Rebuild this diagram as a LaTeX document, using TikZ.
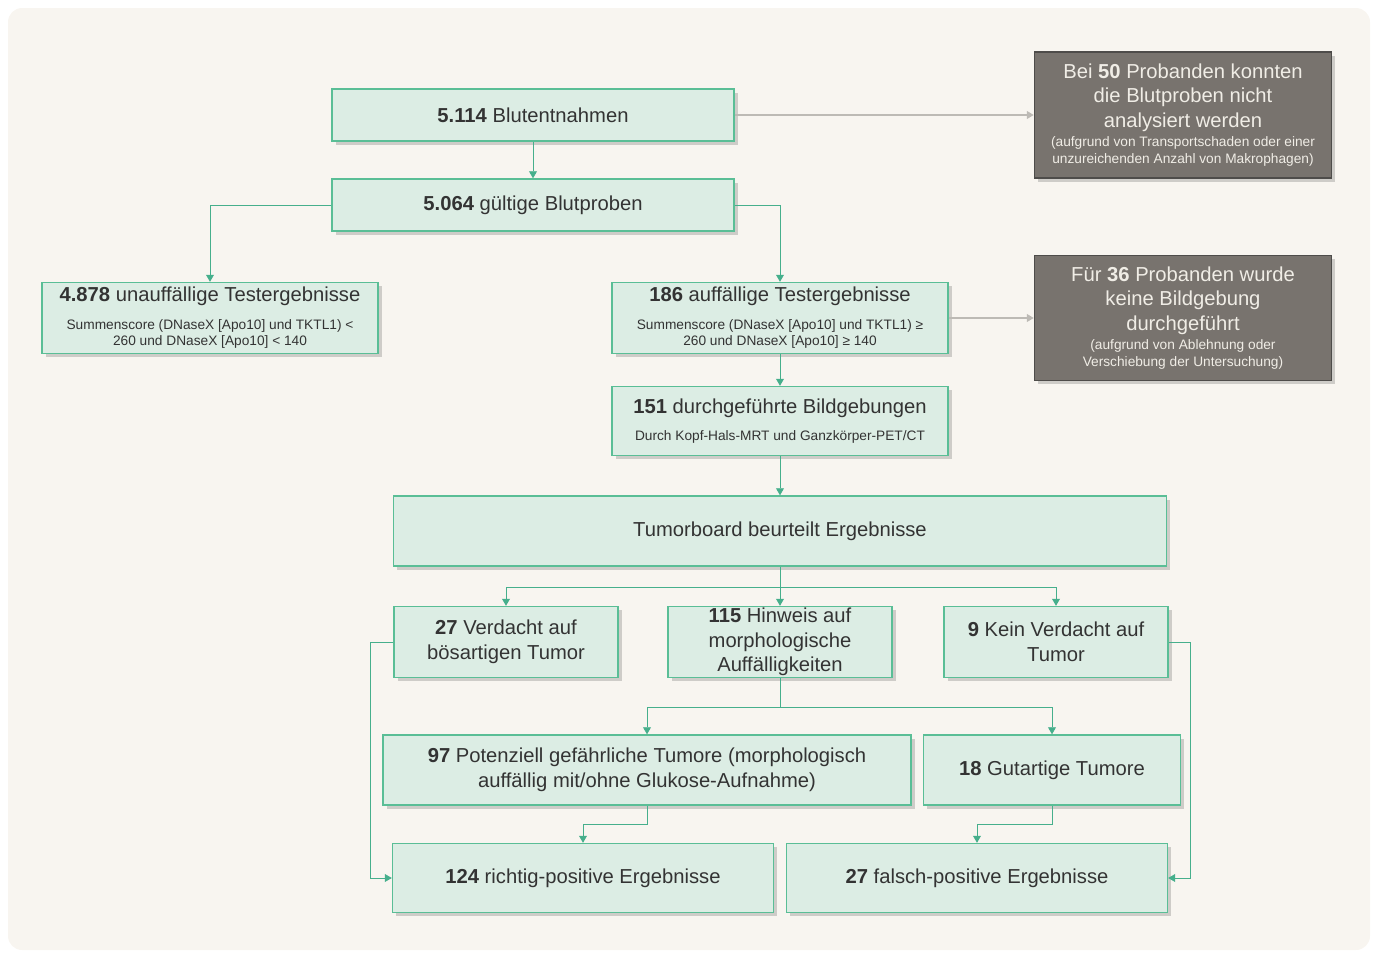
\documentclass[tikz,border=0pt]{standalone}
\usepackage{fontspec}
\setmainfont{Liberation Sans}
\usepackage{tikz}
\usetikzlibrary{arrows.meta, positioning, shadows}

\definecolor{paper}{HTML}{F8F5F0}
\definecolor{mintfill}{HTML}{DCEDE4}
\definecolor{mintdraw}{HTML}{5ABE96}
\definecolor{flowline}{HTML}{46AF8C}
\definecolor{stonefill}{HTML}{78736E}
\definecolor{stonedraw}{HTML}{4E4C4A}
\definecolor{stonetext}{HTML}{F0EDE6}
\definecolor{sideline}{HTML}{BDBAB5}

\newcommand{\mainsize}{\fontsize{11.5}{14}\selectfont}
\newcommand{\smallsize}{\fontsize{7.8}{9.6}\selectfont}

\begin{document}
\begin{tikzpicture}[on grid, >={Triangle[length=4pt,width=4.5pt]},
        mintbox/.style={draw=mintdraw, fill=mintfill, thick, align=center,
            text=black!80, font=\mainsize, inner sep=1pt,
            drop shadow={shadow xshift=2pt, shadow yshift=-2pt, opacity=0.35}},
        graybox/.style={draw=stonedraw, fill=stonefill, thick, align=center,
            text=stonetext, font=\mainsize, inner sep=1pt,
            minimum width=5.94cm, minimum height=2.52cm,
            drop shadow={shadow xshift=2pt, shadow yshift=-2pt, opacity=0.35}},
        flow/.style={draw=flowline, ->},
        sideflow/.style={draw=sideline, thick, ->}]

    % background
    \useasboundingbox (0,0) rectangle (27.5,-19.08);
    \fill[paper, rounded corners=8pt] (0.16,-0.16) rectangle (27.4,-19.0);

    % blood samples
    \node[mintbox, minimum width=8.04cm, minimum height=1.04cm] (b1) at (10.66,-2.30)
        {\textbf{5.114} Blutentnahmen};
    \node[mintbox, minimum width=8.04cm, minimum height=1.04cm] (b2) [below=1.8cm of b1]
        {\textbf{5.064} gültige Blutproben};
    \node[graybox] (side1) [right=13cm of b1]
        {Bei \textbf{50} Probanden konnten\\ die Blutproben nicht\\ analysiert werden\\[-3pt]
         \smallsize (aufgrund von Transportschaden oder einer\\[-4.5pt] \smallsize unzureichenden Anzahl von Makrophagen)};

    % test results
    \node[mintbox, minimum width=6.72cm, minimum height=1.42cm] (left) [below left=2.26cm and 6.46cm of b2]
        {\textbf{4.878} unauffällige Testergebnisse\\[1.5pt]
         \smallsize Summenscore (DNaseX [Apo10] und TKTL1) <\\[-4.5pt] \smallsize 260 und DNaseX [Apo10] < 140};
    \node[mintbox, minimum width=6.72cm, minimum height=1.42cm] (right) [below right=2.26cm and 4.94cm of b2]
        {\textbf{186} auffällige Testergebnisse\\[1.5pt]
         \smallsize Summenscore (DNaseX [Apo10] und TKTL1) ≥\\[-4.5pt] \smallsize 260 und DNaseX [Apo10] ≥ 140};
    \node[graybox, minimum height=2.5cm] (side2) [right=8.06cm of right]
        {Für \textbf{36} Probanden wurde\\ keine Bildgebung\\ durchgeführt\\[-3pt]
         \smallsize (aufgrund von Ablehnung oder\\[-4.5pt] \smallsize Verschiebung der Untersuchung)};

    % imaging
    \node[mintbox, minimum width=6.72cm, minimum height=1.38cm] (b151) [below=2.06cm of right]
        {\textbf{151} durchgeführte Bildgebungen\\[1pt]
         \smallsize Durch Kopf-Hals-MRT und Ganzkörper-PET/CT};
    \node[mintbox, minimum width=15.46cm, minimum height=1.4cm] (board) [below=2.2cm of b151]
        {Tumorboard beurteilt Ergebnisse};

    % findings
    \node[mintbox, minimum width=4.48cm, minimum height=1.42cm, inner ysep=0pt] (v115) [below=2.22cm of board]
        {\textbf{115} Hinweis auf\\ morphologische\\ Auffälligkeiten};
    \node[mintbox, minimum width=4.48cm, minimum height=1.42cm] (v27) [left=5.48cm of v115]
        {\textbf{27} Verdacht auf\\ bösartigen Tumor};
    \node[mintbox, minimum width=4.48cm, minimum height=1.42cm] (v9) [right=5.52cm of v115]
        {\textbf{9} Kein Verdacht auf\\ Tumor};

    \node[mintbox, minimum width=10.56cm, minimum height=1.4cm] (t97) [below left=2.56cm and 2.66cm of v115]
        {\textbf{97} Potenziell gefährliche Tumore (morphologisch\\ auffällig mit/ohne Glukose-Aufnahme)};
    \node[mintbox, minimum width=5.14cm, minimum height=1.4cm] (t18) [right=8.1cm of t97]
        {\textbf{18} Gutartige Tumore};

    \node[mintbox, minimum width=7.62cm, minimum height=1.38cm] (r124) [below left=2.16cm and 1.28cm of t97]
        {\textbf{124} richtig-positive Ergebnisse};
    \node[mintbox, minimum width=7.62cm, minimum height=1.38cm] (r27) [right=7.88cm of r124]
        {\textbf{27} falsch-positive Ergebnisse};

    % connectors
    \draw[flow] (b1) -- (b2);
    \draw[sideflow] (b1) -- (side1);
    \draw[flow] (b2.west) -| (left.north);
    \draw[flow] (b2.east) -| (right.north);
    \draw[sideflow] (right) -- (side2);
    \draw[flow] (right) -- (b151);
    \draw[flow] (b151) -- (board);
    \draw[flow] (board) -- (v115);
    \draw[flow] (board.south) -- ++(0,-0.42) coordinate (split1) -| (v27.north);
    \draw[flow] (split1) -| (v9.north);
    \draw[flow] (v115.south) -- ++(0,-0.58) coordinate (split2) -| (t97.north);
    \draw[flow] (split2) -| (t18.north);
    \draw[flow] (t97.south) -- ++(0,-0.38) -| (r124.north);
    \draw[flow] (t18.south) -- ++(0,-0.38) -| (r27.north);
    \draw[flow] (v27.west) -- ++(-0.46,0) |- (r124.west);
    \draw[flow] (v9.east) -- ++(0.44,0) |- (r27.east);
\end{tikzpicture}
\end{document}
